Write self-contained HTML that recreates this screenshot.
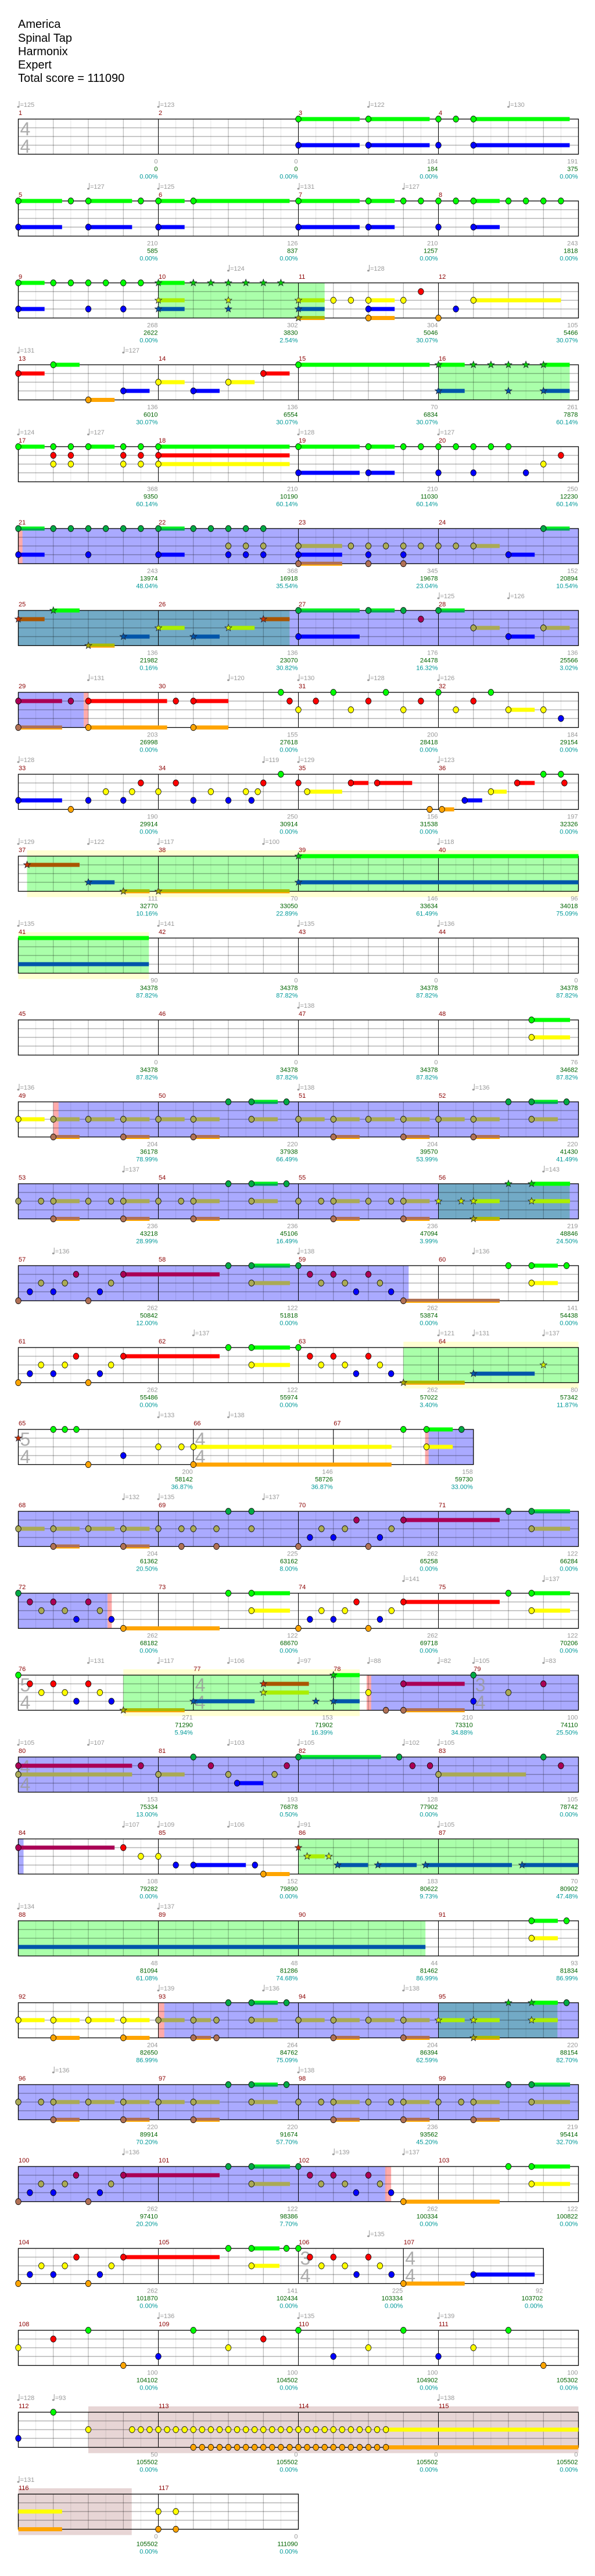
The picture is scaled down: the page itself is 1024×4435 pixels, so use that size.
<!DOCTYPE html>
<html><head><meta charset="utf-8">
<style>
html,body{margin:0;padding:0;background:#fff;width:1024px;height:4435px;overflow:hidden}
svg{display:block}
text{font-family:"Liberation Sans",sans-serif}
</style></head>
<body>
<div id="root"></div>
<script>
(function(){
var L=31.5,BW=60.25,Y0=205,P=141,LY=[0,15,30,45,60.5],H=60.5;
var rows=[
{m:[1,2,3,4],ts:[[0,4,4]],t:"0:125 4:123 10:122 14:130",bg:[],n:"8:GB:1.75 10:GB:1.75 12:GB 12.5:G 13:GB:2.75",num:"0 0 0.00%|0 0 0.00%|184 184 0.00%|191 375 0.00%"},
{m:[5,6,7,8],t:"2:127 4:125 8:131 11:127",bg:[],n:"0:GB:1.25 1.5:G 2:GB:1.25 3.5:G 4:GB:0.75 5:G:2.75 8:GB:1.75 10:GB:0.75 11:G 11.5:G 12:GB 12.5:G 13:GB:0.75 14:G 14.5:G 15:G 15.5:G",num:"210 585 0.00%|126 837 0.00%|210 1257 0.00%|243 1818 0.00%"},
{m:[9,10,11,12],t:"6:124 10:128",bg:[['g',4,8.75]],n:"0:GB:0.75 1:G 1.5:G 2:GB 2.5:G 3:GB 3.5:G 4:*GYB:0.75 5:*G 5.5:*G 6:*GYB 6.5:*G 7:*G 7.5:*G 8:*YBO:0.75 9:Y 9.5:Y 10:YBO:0.75 11:Y 11.5:R 12:O 12.5:B 13:Y:2.5",num:"268 2622 0.00%|302 3830 2.54%|304 5046 30.07%|105 5466 30.07%"},
{m:[13,14,15,16],t:"0:131 3:127",bg:[['g',12,15.75]],n:"0:R:0.75 1:G:0.75 2:O:0.75 3:B:0.75 4:Y:0.75 5:B:0.75 6:Y:0.75 7:R:0.75 8:G:3.75 12:*GB:0.75 13:*G 13.5:*G 14:*GB 14.5:*G 15:*GB:0.75",num:"136 6010 30.07%|136 6554 30.07%|70 6834 30.07%|261 7878 60.14%"},
{m:[17,18,19,20],t:"0:124 2:127 8:128 12:127",bg:[],n:"0:G:0.75 1:GRY 1.5:GRY 2:G:0.75 3:GRY 3.5:GRY 4:GRY:3.75 8:GB:1.75 10:GB:0.75 11:G 11.5:G 12:GB 12.5:G 13:GB 13.5:G 14:G 14.5:B 15:Y 15.5:R",num:"368 9350 60.14%|210 10190 60.14%|210 11030 60.14%|250 12230 60.14%"},
{m:[21,22,23,24],t:"",bg:[['b',0,16],['p',0,0.12]],n:"0:GB:0.75 1:G 1.5:G 2:GB 2.5:G 3:G 3.5:G 4:GB:0.75 5:G 5.5:G 6:GYB 6.5:GYB 7:GYB 8:YBO:1.25 9.5:Y 10:YBO 10.5:Y 11:YBO 11.5:Y 12:Y 12.5:Y 13:Y:0.75 14:B:0.75 15:G:0.75",num:"243 13974 48.04%|368 16918 35.54%|345 19678 23.04%|152 20894 10.54%"},
{m:[25,26,27,28],t:"12:125 14:126",bg:[['b',7.75,16],['t',0,7.75]],n:"0:*R:0.75 1:*G:0.75 2:*O:0.75 3:*B:0.75 4:*Y:0.75 5:*B:0.75 6:*Y:0.75 7:*R:0.75 8:GB:1.75 10:G:0.75 11:G 11.5:R 12:G:0.75 13:Y:0.75 14:B:0.75 15:Y:0.75",num:"136 21982 0.16%|136 23070 30.82%|176 24478 16.32%|136 25566 3.02%"},
{m:[29,30,31,32],t:"2:131 6:120 8:130 10:128 12:126",bg:[['b',0,1.87],['p',1.87,2.0]],n:"0:RO:1.25 1.5:R 2:RO:2.25 4.5:R 5:RO:1 7.5:G 7.75:R 8:Y 8.5:R 9:G 9.5:Y 10:R 10.5:G 11:Y 11.5:R 12:G 12.5:Y 13:R 13.5:G 14:Y:0.75 15:Y 15.5:B",num:"203 26998 0.00%|155 27618 0.00%|200 28418 0.00%|184 29154 0.00%"},
{m:[33,34,35,36],t:"0:128 7:119 8:129 12:123",bg:[],n:"0:B:1.25 1.5:O 2:B 2.5:Y 3:B 3.25:Y 3.5:R 4:Y 4.5:R 5:B 5.5:Y 6:B 6.5:Y 6.66:B 6.84:Y 7:R 7.5:G 8:R 8.25:Y:1 9.5:R:0.5 10.25:R:1 11.75:O 12.1:O:0.35 12.75:B:0.5 13.5:Y:0.45 14.25:R:0.5 15:G 15.5:G 15.6:R",num:"190 29914 0.00%|250 30914 0.00%|156 31538 0.00%|197 32326 0.00%"},
{m:[37,38,39,40],t:"0:129 2:122 4:117 7:100 12:118",bg:[['G',0.25,16]],n:"0.25:*R:1.5 2:*B:0.75 3:*O:0.75 4:*O:3.75 8:*GB:8",num:"111 32770 10.16%|70 33050 22.89%|146 33634 61.49%|96 34018 75.09%"},
{m:[41,42,43,44],t:"0:135 4:141 8:135 12:136",bg:[['G',0,3.73]],n:"0:-*GB:3.73",num:"90 34378 87.82%|0 34378 87.82%|0 34378 87.82%|0 34378 87.82%"},
{m:[45,46,47,48],t:"8:138",bg:[],n:"14.66:GY:1.1",num:"0 34378 87.82%|0 34378 87.82%|0 34378 87.82%|76 34682 87.82%"},
{m:[49,50,51,52],t:"0:136 8:138 13:136",bg:[['b',1,16],['p',1,1.15]],n:"0:Y:0.75 1:YO:0.75 2:Y:0.75 3:YO:0.75 4:Y:0.75 5:YO:0.75 6:G 6.66:GY:0.75 7.66:G 8:Y:0.75 9:YO:0.75 10:Y:0.75 11:YO:0.75 12:Y:0.75 13:YO:0.75 14:G 14.66:GY:0.75 15.66:G",num:"204 36178 78.99%|220 37938 66.49%|204 39570 53.99%|220 41430 41.49%"},
{m:[53,54,55,56],t:"3:137 15:143",bg:[['b',0,16],['t',12,15.75]],n:"0:Y 0.65:Y 1:YO:0.75 2:Y 2.65:Y 3:YO:0.75 4:Y 4.65:Y 5:YO:0.75 6:G 6.66:GY:0.75 7.66:G 8:Y 8.65:Y 9:YO:0.75 10:Y 10.65:Y 11:YO:0.75 12:*Y 12.65:*Y 13:*YO:0.75 14:*G 14.66:*GY:1.1",num:"236 43218 28.99%|236 45106 16.49%|236 47094 3.99%|219 48846 24.50%"},
{m:[57,58,59,60],t:"1:136 8:138 13:136",bg:[['b',0,11.15]],n:"0:O 0.33:B 0.65:Y 1:B 1.33:Y 1.65:R 2:O 2.33:B 2.65:Y 3:R:2.75 6:G 6.66:GY:1.1 8:G 8.33:R 8.65:Y 9:R 9.33:Y 9.65:B 10:R 10.33:Y 10.65:B 11:O:2.75 14:G 14.66:GY:0.75 15.66:G",num:"262 50842 12.00%|122 51818 0.00%|262 53874 0.00%|141 54438 0.00%"},
{m:[61,62,63,64],t:"5:137 12:121 13:131 15:137",bg:[['G',11,16]],n:"0:O 0.33:B 0.65:Y 1:B 1.33:Y 1.65:R 2:O 2.33:B 2.65:Y 3:R:2.75 6:G 6.66:GY:1.1 8:G 8.33:R 8.65:Y 9:R 9.33:Y 9.65:B 10:R 10.33:Y 10.65:B 11:*O:1.75 13:*B:1.75 15:*Y",num:"262 55486 0.00%|122 55974 0.00%|262 57022 3.40%|80 57342 11.87%"},
{m:[[65,5],[66,4],[67,4]],ts:[[0,5,4],[5,4,4]],t:"4:133 6:138",bg:[['b',11.7,13],['p',11.62,11.72]],n:"0:*R 1:G 1.33:G 1.66:G 2:O 3:B 4:Y 4.66:Y 5:YO:5.66 11:G 11.66:GY:0.75 12.66:G",num:"200 58142 36.87%|146 58726 36.87%|158 59730 33.00%"},
{m:[68,69,70,71],t:"3:132 4:135 7:137",bg:[['b',0,16]],n:"0:Y:0.75 1:YO:0.75 2:Y:0.75 3:YO:0.75 4:Y 4.66:YO 5:Y 5.66:YO 6:G 6.66:GY 8:O 8.33:B 8.66:Y 9:B 9.33:Y 9.66:R 10:O 10.33:B 10.66:Y 11:R:2.75 14:G 14.66:GY:1.1",num:"204 61362 20.50%|225 63162 8.00%|262 65258 0.00%|122 66284 0.00%"},
{m:[72,73,74,75],t:"11:141 15:137",bg:[['b',0,2.55],['p',2.55,2.67]],n:"0:G 0.33:R 0.66:Y 1:R 1.33:Y 1.66:B 2:R 2.33:Y 2.66:B 3:O:2.75 6:G 6.66:GY:1.1 8:O 8.33:B 8.66:Y 9:B 9.33:Y 9.66:R 10:O 10.33:B 10.66:Y 11:R:2.75 14:G 14.66:GY:1.1",num:"262 68182 0.00%|122 68670 0.00%|262 69718 0.00%|122 70206 0.00%"},
{m:[[76,5],[77,4],[78,4],[79,3]],ts:[[0,5,4],[5,4,4],[13,3,4]],t:"2:131 4:117 6:106 8:97 10:88 12:82 13:105 15:83",bg:[['G',3,9.75],['b',10.05,16],['p',9.95,10.08]],n:"0:G 0.33:R 0.66:Y 1:R 1.33:Y 1.66:B 2:R 2.33:Y 2.66:B 3:*O:1.75 5:*B:1.75 7:*RY:1.3 8.5:*B 9:*GB:0.75 10:Y 10.5:O 11:RO:1.75 13:GB 14:Y 15:R",num:"271 71290 5.94%|153 71902 16.39%|210 73310 34.88%|100 74110 25.50%"},
{m:[80,81,82,83],ts:[[0,4,4]],t:"0:105 2:107 6:103 8:105 11:102 12:105",bg:[['b',0,16]],n:"0:RY:3.25 3.5:R 4:Y:0.75 5:G 5.5:R 6:Y 6.25:B:0.75 7.32:Y 7.67:R 8:G:2.36 10.88:G 11.26:R 11.76:R 12:Y:2.5 15:G 15.5:R",num:"153 75334 13.00%|193 76878 0.50%|128 77902 0.00%|105 78742 0.00%"},
{m:[84,85,86,87],t:"3:107 4:109 6:106 8:91 12:105",bg:[['b',0,0.15],['g',8,16]],n:"0:R:2.75 3:R 3.5:Y 4:Y 4.5:B 5:B:1.5 6.76:B 7:O:0.75 8:*R 8.25:*Y:0.5 8.87:*Y 9.12:*B:0.87 10.27:*B:1.11 11.63:*B:2.47 14.39:*B:1.61",num:"108 79282 0.00%|152 79890 0.00%|183 80622 9.73%|70 80902 47.48%"},
{m:[88,89,90,91],t:"0:134 4:137",bg:[['g',0,11.63]],n:"0:-*B:11.63 14.66:GY:0.75 15.66:G",num:"48 81094 61.08%|48 81286 74.68%|44 81462 86.99%|93 81834 86.99%"},
{m:[92,93,94,95],t:"4:139 7:136 11:138",bg:[['b',4,16],['p',4,4.17],['t',12,15.4]],n:"0:Y:0.75 1:YO:0.75 2:Y:0.75 3:YO:0.75 4:Y:0.75 5:YO:0.5 5.66:YO 6:G 6.66:GY:0.75 7.66:G 8:Y:0.75 9:YO:0.75 10:Y:0.75 11:YO:0.75 12:*Y:0.75 13:*YO:0.75 14:*G 14.66:*GY:0.75 15.66:G",num:"204 82650 86.99%|264 84762 75.09%|204 86394 62.59%|220 88154 82.70%"},
{m:[96,97,98,99],t:"1:136 8:138",bg:[['b',0,16]],n:"0:Y 0.65:Y 1:YO:0.75 2:Y:0.75 3:YO:0.75 4:Y:0.75 5:YO:0.75 6:G 6.66:GY:0.75 7.66:G 8:Y 8.65:Y 9:YO:0.75 10:Y 10.65:Y 11:YO:0.75 12:Y 12.65:Y 13:YO:0.75 14:G 14.66:GY:1.1",num:"220 89914 70.20%|220 91674 57.70%|236 93562 45.20%|219 95414 32.70%"},
{m:[100,101,102,103],t:"3:136 9:139 11:137",bg:[['b',0,10.48],['p',10.48,10.65]],n:"0:O 0.33:B 0.65:Y 1:B 1.33:Y 1.65:R 2:O 2.33:B 2.65:Y 3:R:2.75 6:G 6.66:GY:1.1 8:G 8.33:R 8.65:Y 9:R 9.33:Y 9.65:B 10:R 10.33:Y 10.65:B 11:O:2.75 14:G 14.66:GY:1.1",num:"262 97410 20.20%|122 98386 7.70%|262 100334 0.00%|122 100822 0.00%"},
{m:[[104,4],[105,4],[106,3],[107,4]],ts:[[8,3,4],[11,4,4]],t:"10:135",bg:[],n:"0:O 0.33:B 0.66:Y 1:B 1.33:Y 1.66:R 2:O 2.33:B 2.66:Y 3:R:2.75 6:G 6.66:GY:0.8 7.66:G 8:G 8.33:R 8.66:Y 9:R 9.33:Y 9.66:B 10:R 10.33:Y 10.66:B 11:O:1.75 13:B:1.75",num:"262 101870 0.00%|141 102434 0.00%|225 103334 0.00%|92 103702 0.00%"},
{m:[108,109,110,111],t:"4:136 8:135 12:139",bg:[],n:"0:Y 1:R 2:G 3:O 4:B 5:G 6:Y 7:R 8:G 9:B 10:Y 11:G 12:B 13:Y 14:G 15:O",num:"100 104102 0.00%|100 104502 0.00%|100 104902 0.00%|100 105302 0.00%"},
{m:[112,113,114,115],t:"0:128 1:93 12:138",bg:[['r',2,16]],n:"",num:"50 105502 0.00%|0 105502 0.00%|0 105502 0.00%|0 105502 0.00%"},
{m:[116,117],t:"0:131",bg:[['r',0,3.24]],n:"0:-YO:1.25 4:YO 4.5:YO",num:"0 105502 0.00%|0 111090 0.00%"}
];
// build row 28 notes
(function(){var s=["0:B","1:G","2:Y"];for(var b=3.25;b<10.5;b+=0.25)s.push(b+":Y");for(var b2=5;b2<10.5;b2+=0.25)s.push(b2+":O");s.push("10.5:YO:5.5");rows[28].n=s.join(" ");})();

var NC={G:'#00ff00',R:'#ff0000',Y:'#ffff00',B:'#0000ff',O:'#ffa500'};
var MC={G:'#00aa44',R:'#aa0055',Y:'#aaaa55',B:'#0000ff',O:'#b07055'};
var SC={G:'#00ff00',R:'#aa5500',Y:'#aaee00',B:'#0055aa',O:'#aabb00'};
var SH={G:'#00cc00',R:'#cc3300',Y:'#ccee00',B:'#0055aa',O:'#aaaa00'};
var o=[];
o.push('<svg xmlns="http://www.w3.org/2000/svg" width="1024" height="4435" viewBox="0 0 1024 4435">');
o.push('<rect width="1024" height="4435" fill="#fff"/>');
var tl=[["America",48],["Spinal Tap",72],["Harmonix",95],["Expert",118],["Total score = 111090",141]];
tl.forEach(function(a){o.push('<text x="31" y="'+a[1]+'" font-size="20" fill="#000">'+a[0]+'</text>');});
function X(b){return L+b*BW;}
rows.forEach(function(R,ri){
  var top=Y0+ri*P, bot=top+H;
  var ms=R.m.map(function(m){return typeof m==='number'?[m,4]:m;});
  var tot=0; ms.forEach(function(m){tot+=m[1];});
  var W=tot*BW;
  // backgrounds
  R.bg.forEach(function(g){
    var x1=X(g[1]),w=(g[2]-g[1])*BW;
    if(g[0]==='b')o.push('<rect x="'+x1+'" y="'+top+'" width="'+w+'" height="'+H+'" fill="#aaaaff"/>');
    else if(g[0]==='g')o.push('<rect x="'+x1+'" y="'+top+'" width="'+w+'" height="'+H+'" fill="#aaffaa"/>');
    else if(g[0]==='t')o.push('<rect x="'+x1+'" y="'+top+'" width="'+w+'" height="'+H+'" fill="#72aac6"/>');
    else if(g[0]==='p')o.push('<rect x="'+x1+'" y="'+top+'" width="'+w+'" height="'+H+'" fill="#ffaaaa"/>');
    else if(g[0]==='G'){o.push('<rect x="'+x1+'" y="'+(top-10)+'" width="'+w+'" height="'+(H+20)+'" fill="#ffffd2"/>');o.push('<rect x="'+x1+'" y="'+top+'" width="'+w+'" height="'+H+'" fill="#aaffaa"/>');}
    else if(g[0]==='r')o.push('<rect x="'+x1+'" y="'+(top-10)+'" width="'+w+'" height="'+(H+20)+'" fill="#e7d5d5"/>');
  });
  // grid
  for(var k=1;k<tot*2;k++){var xx=L+k*BW/2;o.push('<line x1="'+xx+'" y1="'+top+'" x2="'+xx+'" y2="'+bot+'" stroke="'+(k%2?'rgba(0,0,0,0.1)':'rgba(0,0,0,0.33)')+'" stroke-width="1"/>');}
  for(var li=1;li<4;li++){var yy=top+LY[li];o.push('<line x1="'+L+'" y1="'+yy+'" x2="'+(L+W)+'" y2="'+yy+'" stroke="rgba(0,0,0,0.35)" stroke-width="1.2"/>');}
  var acc=0;
  ms.forEach(function(m,mi){
    var xs=X(acc);
    if(mi>0)o.push('<line x1="'+xs+'" y1="'+top+'" x2="'+xs+'" y2="'+bot+'" stroke="#000" stroke-width="1"/>');
    o.push('<text x="'+(xs+0.5)+'" y="'+(top-7)+'" font-size="11" fill="#8b0000">'+m[0]+'</text>');
    acc+=m[1];
    var xe=X(acc)-1;
    var nn=R.num.split('|')[mi].split(' ');
    o.push('<text x="'+xe+'" y="'+(bot+16)+'" font-size="11" fill="#999" text-anchor="end">'+nn[0]+'</text>');
    o.push('<text x="'+xe+'" y="'+(bot+29)+'" font-size="11" fill="#006400" text-anchor="end">'+nn[1]+'</text>');
    o.push('<text x="'+xe+'" y="'+(bot+42)+'" font-size="11" fill="#009999" text-anchor="end">'+nn[2]+'</text>');
  });
  o.push('<rect x="'+L+'" y="'+top+'" width="'+W+'" height="'+H+'" fill="none" stroke="#000" stroke-width="1.3"/>');
  // tempos
  if(R.t)R.t.split(' ').forEach(function(tk){var p=tk.split(':');var xx=X(+p[0]);
    o.push('<line x1="'+(xx+1.5)+'" y1="'+(top-31)+'" x2="'+(xx+1.5)+'" y2="'+(top-21)+'" stroke="#999" stroke-width="1"/>');
    o.push('<ellipse cx="'+(xx)+'" cy="'+(top-21)+'" rx="2" ry="1.5" fill="#999"/>');
    o.push('<text x="'+(xx+3)+'" y="'+(top-21)+'" font-size="11" fill="#999">='+p[1]+'</text>');});
  // time signatures
  (R.ts||[]).forEach(function(ts){var xx=X(ts[0])+3;
    o.push('<text x="'+xx+'" y="'+(top+28)+'" font-size="32" fill="#999" fill-opacity="0.8">'+ts[1]+'</text>');
    o.push('<text x="'+xx+'" y="'+(top+58)+'" font-size="32" fill="#999" fill-opacity="0.8">'+ts[2]+'</text>');});
  // notes
  var blues=R.bg.filter(function(g){return g[0]==='b';});
  function muted(b){for(var i=0;i<blues.length;i++)if(b>=blues[i][1]-0.01&&b<blues[i][2])return true;return false;}
  var heads=[];
  if(R.n)R.n.split(' ').forEach(function(tk){
    var p=tk.split(':');var b=+p[0];var ls=p[1];var len=p[2]?+p[2]:0;
    var nohead=false,star=false;
    if(ls[0]==='-'){nohead=true;ls=ls.slice(1);}
    if(ls[0]==='*'){star=true;ls=ls.slice(1);}
    var mu=!star&&muted(b);
    ls.split('').forEach(function(c){
      var li='GRYBO'.indexOf(c);var cy=top+LY[li];var xx=X(b);
      if(len>0){var bc=star?SC[c]:(mu?MC[c]:NC[c]);var bw=len*BW;
        if(mu&&c==='G'){o.push('<rect x="'+xx+'" y="'+(cy-3.5)+'" width="'+bw+'" height="3.5" fill="#00ee22"/><rect x="'+xx+'" y="'+cy+'" width="'+bw+'" height="3.5" fill="#00aa55"/>');}
        else o.push('<rect x="'+xx+'" y="'+(cy-3.5)+'" width="'+bw+'" height="7" fill="'+bc+'"/>');
        if(c==='O'&&(mu||star))o.push('<rect x="'+xx+'" y="'+(cy+1.5)+'" width="'+bw+'" height="2" fill="#ffa500"/>');
      }
      if(!nohead)heads.push([xx,cy,c,star,mu]);
    });
  });
  heads.forEach(function(h){
    var xx=h[0],cy=h[1],c=h[2];
    if(h[3]){var pts=[];for(var i=0;i<10;i++){var a=-Math.PI/2+i*Math.PI/5;var r=i%2?2.6:6.2;pts.push((xx+r*Math.cos(a)).toFixed(1)+','+(cy+r*Math.sin(a)).toFixed(1));}
      o.push('<polygon points="'+pts.join(' ')+'" fill="'+SH[c]+'" stroke="#223" stroke-width="0.8"/>');}
    else o.push('<ellipse cx="'+xx+'" cy="'+cy+'" rx="4.8" ry="5.3" fill="'+(h[4]?MC[c]:NC[c])+'" stroke="#000" stroke-width="0.8"/>');
  });
});
o.push('</svg>');
document.getElementById('root').innerHTML=o.join('');
})();
</script>
</body></html>
